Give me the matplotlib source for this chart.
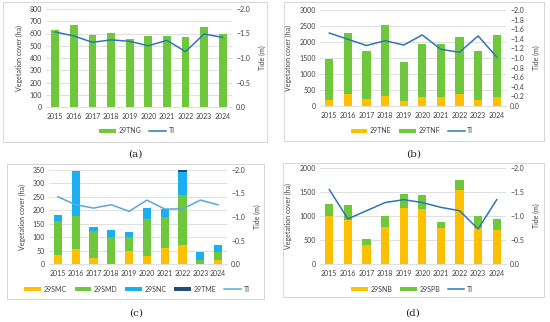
import numpy as np
import matplotlib
matplotlib.use("Agg")
import matplotlib.pyplot as plt
from matplotlib.patches import Rectangle
from matplotlib.ticker import FuncFormatter

plt.rcParams['font.family'] = ['Lato', 'DejaVu Sans']

years = ['2015', '2016', '2017', '2018', '2019', '2020', '2021', '2022', '2023', '2024']

# (a)
tng = [625, 668, 590, 605, 555, 580, 580, 572, 650, 595]
ti_a = [-1.53, -1.45, -1.32, -1.37, -1.34, -1.25, -1.36, -1.13, -1.49, -1.42]

# (b)
tne = [185, 390, 230, 310, 170, 280, 270, 390, 180, 280]
tnf = [1275, 1890, 1480, 2230, 1220, 1650, 1670, 1760, 1530, 1930]
ti_b = [-1.52, -1.39, -1.26, -1.36, -1.27, -1.48, -1.18, -1.12, -1.46, -1.02]

# (c)
smc = [35, 57, 22, 0, 49, 31, 59, 72, 0, 16]
smd = [126, 123, 102, 99, 50, 136, 115, 185, 14, 29]
snc = [21, 168, 12, 26, 21, 41, 30, 87, 29, 27]
tme = [0, 0, 0, 0, 0, 0, 0, 8, 0, 0]
ti_c = [-1.43, -1.26, -1.19, -1.26, -1.12, -1.36, -1.17, -1.17, -1.36, -1.26]

# (d)
snb = [1004, 920, 404, 780, 1164, 1143, 760, 1533, 746, 711]
spb = [244, 314, 119, 224, 293, 300, 118, 210, 258, 223]
ti_d = [-1.55, -0.94, -1.11, -1.28, -1.34, -1.28, -1.18, -1.11, -0.73, -1.34]

ORANGE = '#FFC000'
GREEN = '#6FC83C'
CYAN = '#1AAFEF'
NAVY = '#1F4E79'
BLUE = '#2E75B6'
LIGHTBLUE = '#5BA8DE'
GRID = '#D9D9D9'
TXT = '#404040'
FS = 5.0

W, H = 550, 322


def px_axes(fig, x0, y0, x1, y1):
    """Axes from pixel box (top-left origin)."""
    return fig.add_axes([x0 / W, 1 - y1 / H, (x1 - x0) / W, (y1 - y0) / H])


def style_panel(ax, ymax, ystep, tide_step, tide_fmt):
    ax.set_xlim(-0.5, 9.5)
    ax.set_ylim(0, ymax)
    ax.set_yticks(np.arange(0, ymax + 1, ystep))
    ax.set_xticks(range(len(years)))
    ax.set_xticklabels(years)
    ax.yaxis.grid(True, color=GRID, linewidth=0.6)
    ax.set_axisbelow(True)
    for s in ['top', 'right', 'left']:
        ax.spines[s].set_visible(False)
    ax.spines['bottom'].set_color(GRID)
    ax.spines['bottom'].set_linewidth(0.6)
    ax.tick_params(length=0, labelsize=FS, colors=TXT, pad=3)
    ax.tick_params(axis='x', pad=4)
    ax.set_ylabel('Vegetation cover (ha)', fontsize=FS, color=TXT, labelpad=5)

    ax2 = ax.twinx()
    ax2.set_ylim(0, -2.0)
    ax2.set_yticks(np.arange(0, -2.0 - 1e-9, -tide_step))
    ax2.yaxis.set_major_formatter(FuncFormatter(
        lambda v, p: (tide_fmt % v).replace('-', '\u2212') if abs(v) > 1e-9 else '0.0'))
    for s in ax2.spines.values():
        s.set_visible(False)
    ax2.tick_params(length=0, labelsize=FS, colors=TXT, pad=3)
    ax2.set_ylabel('Tide (m)', fontsize=FS, color=TXT, labelpad=6)
    return ax2


def stacked(ax, series, colors, labels, width=0.45):
    x = np.arange(len(years))
    bottom = np.zeros(len(years))
    handles = []
    for vals, c, lab in zip(series, colors, labels):
        b = ax.bar(x, vals, width, bottom=bottom, color=c, label=lab)
        bottom += np.array(vals)
        handles.append(b)
    return handles


def add_legend(fig, ax, ax2, cx, cy):
    h1, l1 = ax.get_legend_handles_labels()
    h2, l2 = ax2.get_legend_handles_labels()
    fig.legend(h1 + h2, l1 + l2, loc='center', bbox_to_anchor=(cx / W, 1 - cy / H),
               ncol=len(l1 + l2), frameon=False, fontsize=FS, labelcolor=TXT,
               handlelength=2.4, handleheight=0.5, columnspacing=1.1, handletextpad=0.4)


fig = plt.figure(figsize=(5.5, 3.22), dpi=100)

# panel frames
for (x0, y0, x1, y1) in [(3, 2, 267, 142), (284, 2, 544, 141),
                         (7, 164, 264, 299), (283, 163, 544, 297)]:
    fig.patches.append(Rectangle((x0 / W, 1 - y1 / H), (x1 - x0) / W, (y1 - y0) / H,
                                 transform=fig.transFigure, fill=False,
                                 edgecolor='#D0D0D0', linewidth=0.6))

x = np.arange(len(years))

# (a)
ax = px_axes(fig, 46, 9, 232, 107)
ax2 = style_panel(ax, 800, 100, 0.5, '%.1f')
stacked(ax, [tng], [GREEN], ['29TNG'], width=0.42)
ax2.plot(x, ti_a, color=BLUE, linewidth=1.1, label='TI')
add_legend(fig, ax, ax2, 137, 131)

# (b)
ax = px_axes(fig, 320, 10, 506, 106)
ax2 = style_panel(ax, 3000, 500, 0.2, '%.1f')
stacked(ax, [tne, tnf], [ORANGE, GREEN], ['29TNE', '29TNF'])
ax2.plot(x, ti_b, color=BLUE, linewidth=1.1, label='TI')
add_legend(fig, ax, ax2, 412, 131)

# (c)
ax = px_axes(fig, 49, 170, 227, 264)
ax2 = style_panel(ax, 350, 50, 0.5, '%.1f')
stacked(ax, [smc, smd, snc, tme], [ORANGE, GREEN, CYAN, NAVY],
        ['29SMC', '29SMD', '29SNC', '29TME'])
ax2.plot(x, ti_c, color=LIGHTBLUE, linewidth=1.1, label='TI')
add_legend(fig, ax, ax2, 137, 289)

# (d)
ax = px_axes(fig, 320, 168, 506, 264)
ax2 = style_panel(ax, 2000, 500, 0.5, '%.1f')
stacked(ax, [snb, spb], [ORANGE, GREEN], ['29SNB', '29SPB'])
ax2.plot(x, ti_d, color=BLUE, linewidth=1.1, label='TI')
add_legend(fig, ax, ax2, 412, 289)

# panel letters
for lab, cx, cy in [('(a)', 135, 154), ('(b)', 414, 154), ('(c)', 136, 313), ('(d)', 413, 313)]:
    fig.text(cx / W, 1 - cy / H, lab, ha='center', va='center', fontsize=7.5,
             family='DejaVu Serif', color='#222222')

fig.savefig('out.png', dpi=100)
